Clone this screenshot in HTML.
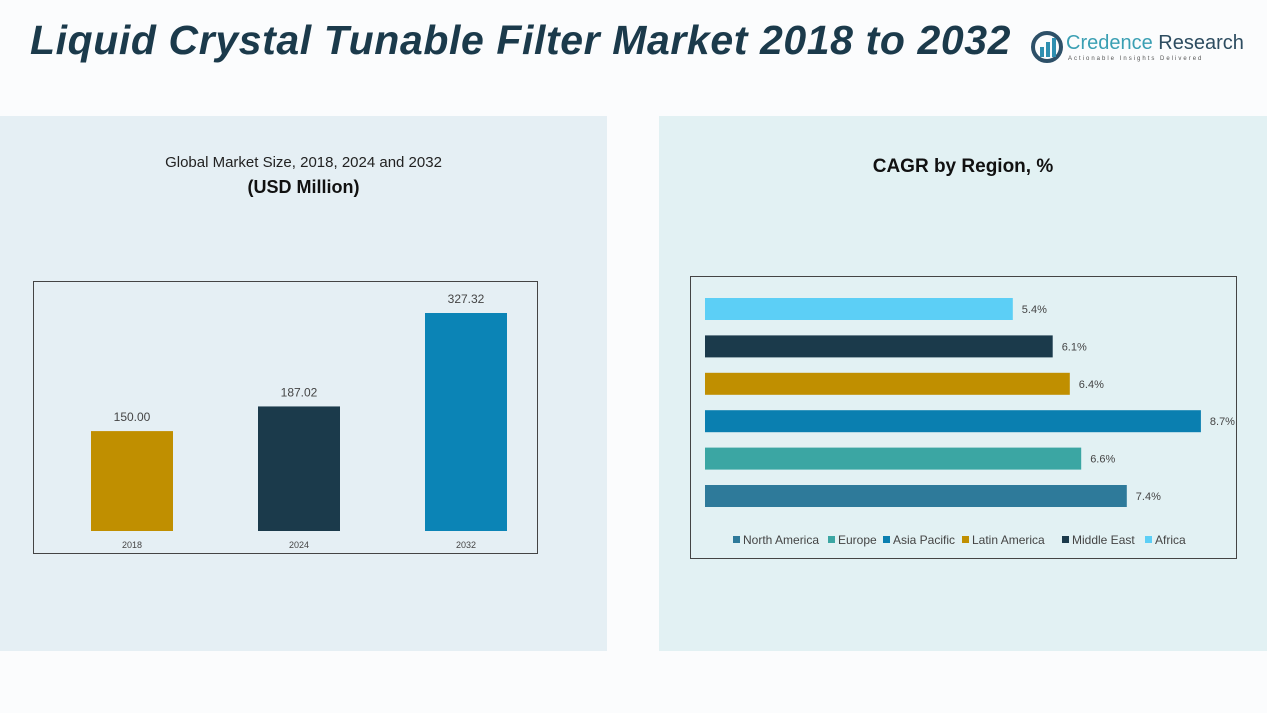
<!DOCTYPE html>
<html><head><meta charset="utf-8"><style>
body{margin:0;width:1267px;height:713px;background:#fbfcfd;font-family:"Liberation Sans",sans-serif;position:relative;overflow:hidden}
.abs{position:absolute}
</style></head><body>
<div class="abs" style="left:30px;top:17px;font-size:41px;font-weight:bold;font-style:italic;color:#1b3a4b;letter-spacing:0.6px">Liquid Crystal Tunable Filter Market 2018 to 2032</div>
<div class="abs" style="left:1030px;top:30px;width:210px;height:40px">
 <svg width="34" height="34" style="position:absolute;left:0;top:0"><circle cx="17" cy="17" r="14" fill="none" stroke="#2d5068" stroke-width="4"/><rect x="10" y="17" width="4" height="10" fill="#2f8fb0"/><rect x="16" y="12" width="4" height="15" fill="#2f8fb0"/><rect x="22" y="8" width="4" height="19" fill="#2f8fb0"/></svg>
 <div class="abs" style="left:36px;top:2px;font-size:20px;color:#3a9fb3;white-space:nowrap">Credence <span style="color:#2d4c60">Research</span></div>
 <div class="abs" style="left:38px;top:26px;font-size:6px;color:#555;letter-spacing:2px;white-space:nowrap">Actionable Insights Delivered</div>
</div>
<div class="abs" style="left:0;top:116px;width:607px;height:535px;background:#e5eff4"></div>
<div class="abs" style="left:659px;top:116px;width:608px;height:535px;background:#e2f1f3"></div>
<div class="abs" style="left:0;width:607px;top:154px;text-align:center;font-size:15px;color:#222">Global Market Size, 2018, 2024 and 2032</div>
<div class="abs" style="left:0;width:607px;top:177px;text-align:center;font-size:18px;font-weight:bold;color:#111">(USD Million)</div>
<div class="abs" style="left:659px;width:608px;top:156px;text-align:center;font-size:19px;font-weight:bold;color:#111">CAGR by Region, %</div>
<svg class="abs" style="left:0;top:0" width="1267" height="713">
 <rect x="33.5" y="281.5" width="504" height="272" fill="none" stroke="#444" stroke-width="1"/>
 <rect x="690.5" y="276.5" width="546" height="282" fill="none" stroke="#444" stroke-width="1"/>
 <g id="g1"></g><g id="g2"></g>
</svg>
<script>
const years=["2018","2024","2032"];
const sizes=[150.00,187.02,327.32];
const regions=["North America","Europe","Asia Pacific","Latin America","Middle East","Africa"];
const cagr=[7.4,6.6,8.7,6.4,6.1,5.4];
const ns="http://www.w3.org/2000/svg";
const barColors=["#c08f00","#1b3a4b","#0b84b6"];
const regColors=["#2e7a9a","#3ba6a3","#0a7fb0","#c08f00","#1b3a4b","#5ccff6"];
function mk(t,a,p){const e=document.createElementNS(ns,t);for(const k in a)e.setAttribute(k,a[k]);p.appendChild(e);return e;}
const g1=document.getElementById('g1'),g2=document.getElementById('g2');
const yS=v=>531-v*0.666;
const xC=i=>132+i*167;
years.forEach((y,i)=>{
 const r=mk('rect',{x:xC(i)-41,y:yS(sizes[i]),width:82,height:531-yS(sizes[i]),fill:barColors[i]},g1);
 
 
 const t=mk('text',{x:xC(i),y:yS(sizes[i])-10,'text-anchor':'middle','font-size':12,fill:'#444'},g1);t.textContent=sizes[i].toFixed(2);
 
 
 const l=mk('text',{x:xC(i),y:548,'text-anchor':'middle','font-size':9,fill:'#444'},g1);l.textContent=y;
 
 
});
const xS=v=>705+v*57;
const yR=i=>496-i*37.4;
regions.forEach((r,i)=>{
 const b=mk('rect',{x:705,y:yR(i)-11,width:xS(cagr[i])-705,height:22,fill:regColors[i]},g2);
 
 
 const t=mk('text',{x:xS(cagr[i])+9,y:yR(i)+4,'font-size':11,fill:'#444'},g2);t.textContent=cagr[i].toFixed(1)+'%';
 
 
});
let lx=733;
const lw=[95,55,79,100,83,48];
regions.forEach((r,i)=>{
 const s=mk('rect',{x:lx,y:536,width:7,height:7,fill:regColors[i]},g2);
 
 
 const t=mk('text',{x:lx+10,y:544,'font-size':12,fill:'#444'},g2);t.textContent=r;
 
 
 lx+=lw[i];
});
</script>
</body></html>
